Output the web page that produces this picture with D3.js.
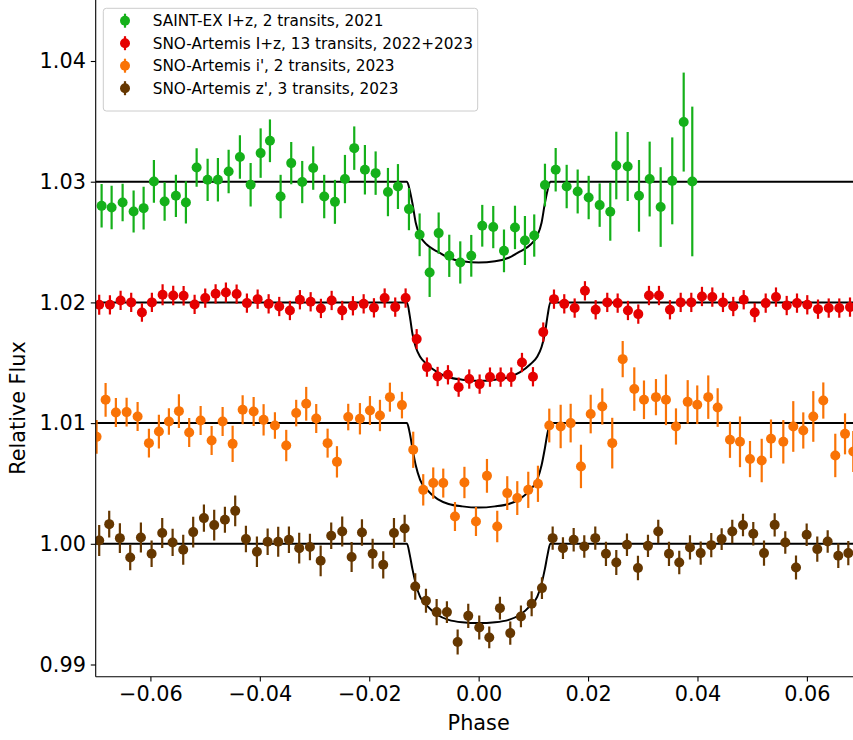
<!DOCTYPE html>
<html>
<head>
<meta charset="utf-8">
<script src="https://cdn.jsdelivr.net/npm/d3@7"></script>
<style>
  html, body { margin: 0; padding: 0; background: #ffffff; }
  svg { display: block; }
  text { font-family: "DejaVu Sans", sans-serif; fill: #000; }
</style>
</head>
<body>
<svg id="chart" width="853" height="740"></svg>
<script>
// ---------------- data ----------------
const seriesLabels = [
  "SAINT-EX I+z, 2 transits, 2021",
  "SNO-Artemis I+z, 13 transits, 2022+2023",
  "SNO-Artemis i', 2 transits, 2023",
  "SNO-Artemis z', 3 transits, 2023"
];
const seriesColors = ["#15b01a", "#e50000", "#f97306", "#653700"];

const xTicks = [-0.06, -0.04, -0.02, 0.00, 0.02, 0.04, 0.06];
const yTicks = [0.99, 1.00, 1.01, 1.02, 1.03, 1.04];

// SAINT-EX I+z
const greenPhase = [-0.06892,-0.06709,-0.06508,-0.06307,-0.06124,-0.05936,-0.05740,-0.05534,-0.05351,-0.05155,-0.04954,-0.04766,-0.04570,-0.04364,-0.04168,-0.03985,-0.03815,-0.03620,-0.03426,-0.03225,-0.03024,-0.02823,-0.02627,-0.02444,-0.02274,-0.02079,-0.01883,-0.01658,-0.01475,-0.01274,-0.01079,-0.00896,-0.00731,-0.00537,-0.00336,-0.00135,0.00066,0.00267,0.00463,0.00664,0.00846,0.01016,0.01212,0.01408,0.01609,0.01810,0.02011,0.02212,0.02406,0.02516,0.02724,0.02931,0.03126,0.03327,0.03539,0.03748,0.03905];
const greenFlux = [1.02800,1.02786,1.02828,1.02753,1.02781,1.03002,1.02836,1.02883,1.02828,1.03118,1.03016,1.03016,1.03085,1.03204,1.02974,1.03237,1.03339,1.02877,1.03154,1.02997,1.03113,1.02877,1.02833,1.03022,1.03278,1.03099,1.03071,1.02914,1.02960,1.02773,1.02560,1.02248,1.02574,1.02386,1.02331,1.02386,1.02635,1.02624,1.02427,1.02621,1.02513,1.02554,1.02972,1.03099,1.02960,1.02919,1.02869,1.02806,1.02751,1.03134,1.03126,1.02883,1.03022,1.02790,1.03007,1.03494,1.03002];
const greenErr = [0.0018,0.0018,0.00156,0.00174,0.00177,0.00177,0.0016,0.00175,0.00175,0.0016,0.00175,0.0018,0.0018,0.0018,0.0018,0.00205,0.00177,0.0018,0.00175,0.00175,0.0018,0.0018,0.00182,0.002,0.0018,0.00205,0.0018,0.002,0.00186,0.00175,0.00177,0.00203,0.00171,0.00175,0.00175,0.00173,0.00173,0.00175,0.00177,0.0018,0.00203,0.00175,0.00177,0.0018,0.0018,0.00182,0.0018,0.0018,0.0024,0.0028,0.00286,0.00297,0.0031,0.0033,0.0036,0.0041,0.0062];

// SNO-Artemis I+z
const redPhase = [-0.06936,-0.06740,-0.06545,-0.06351,-0.06155,-0.05973,-0.05777,-0.05583,-0.05393,-0.05192,-0.04998,-0.04808,-0.04620,-0.04424,-0.04236,-0.04040,-0.03839,-0.03645,-0.03450,-0.03267,-0.03071,-0.02883,-0.02687,-0.02494,-0.02298,-0.02102,-0.01914,-0.01718,-0.01525,-0.01335,-0.01133,-0.00945,-0.00750,-0.00561,-0.00366,-0.00172,0.00018,0.00207,0.00402,0.00596,0.00792,0.00993,0.01181,0.01377,0.01565,0.01755,0.01943,0.02139,0.02351,0.02541,0.02729,0.02918,0.03113,0.03296,0.03497,0.03693,0.03887,0.04082,0.04271,0.04466,0.04654,0.04845,0.05046,0.05247,0.05435,0.05631,0.05819,0.06007,0.06203,0.06399,0.06592,0.06788];
const redFlux = [1.0198,1.0198,1.02016,1.02000,1.01916,1.0200,1.02063,1.02057,1.02055,1.01983,1.02036,1.02071,1.02082,1.02069,1.01994,1.02027,1.01988,1.01966,1.01933,1.02022,1.02005,1.01950,1.02016,1.01933,1.01972,1.01988,1.01955,1.02036,1.01961,1.02036,1.01696,1.01464,1.01386,1.01400,1.01298,1.01365,1.01323,1.01381,1.01381,1.01381,1.01502,1.01384,1.01754,1.02027,1.01988,1.01953,1.02096,1.01939,1.02000,1.01994,1.01933,1.01903,1.02057,1.02057,1.01939,1.02000,1.02000,1.02049,1.02044,1.02000,1.01966,1.02022,1.01916,1.01994,1.02044,1.01974,1.01994,1.01980,1.01944,1.01953,1.01953,1.01961];
const redErr = [0.00083,0.0008,0.0008,0.0008,0.00076,0.0008,0.00087,0.0008,0.0008,0.0008,0.0008,0.0008,0.00083,0.0008,0.0008,0.0008,0.0008,0.0008,0.0008,0.0008,0.0008,0.0008,0.0008,0.0008,0.0008,0.0008,0.0008,0.0008,0.0008,0.0008,0.00083,0.0008,0.0008,0.0008,0.0008,0.0008,0.0008,0.0008,0.0008,0.0008,0.0008,0.0008,0.0008,0.0008,0.0008,0.0008,0.0008,0.0008,0.0008,0.0008,0.0008,0.0008,0.0008,0.0008,0.0008,0.0008,0.0008,0.0008,0.0008,0.0008,0.0008,0.0008,0.0008,0.0008,0.0008,0.0008,0.0008,0.0008,0.0008,0.0008,0.0008,0.0008];

// SNO-Artemis i'
const orangePhase = [-0.06984,-0.06819,-0.06631,-0.06435,-0.06234,-0.06027,-0.05845,-0.05662,-0.05479,-0.05291,-0.05082,-0.04881,-0.04680,-0.04497,-0.04314,-0.04113,-0.03931,-0.03724,-0.03517,-0.03335,-0.03152,-0.02969,-0.02761,-0.02590,-0.02384,-0.02170,-0.01987,-0.01804,-0.01622,-0.01402,-0.01196,-0.01013,-0.00830,-0.00647,-0.00433,-0.00260,-0.00049,0.00152,0.00340,0.00523,0.00706,0.00907,0.01084,0.01291,0.01499,0.01682,0.01870,0.02048,0.02260,0.02442,0.02633,0.02845,0.03022,0.03241,0.03424,0.03607,0.03821,0.03996,0.04197,0.04369,0.04594,0.04777,0.04960,0.05174,0.05344,0.05569,0.05751,0.05934,0.06117,0.06300,0.06519,0.06697,0.06848];
const orangeFlux = [1.00886,1.01193,1.01088,1.01091,1.01055,1.00834,1.00930,1.01013,1.01099,1.00922,1.01022,1.00856,1.01013,1.00828,1.01110,1.01096,1.01027,1.00980,1.00814,1.01083,1.01160,1.01038,1.00834,1.00679,1.01050,1.01036,1.01104,1.01063,1.01215,1.01149,1.00779,1.00447,1.00503,1.00503,1.00226,1.00508,1.00185,1.00563,1.00143,1.00420,1.00379,1.00447,1.00497,1.00980,1.00972,1.01000,1.00641,1.01075,1.01138,1.00834,1.01530,1.01282,1.01193,1.01215,1.01193,1.00972,1.01176,1.01152,1.01215,1.01129,1.00862,1.00845,1.00702,1.00690,1.00870,1.00845,1.00972,1.00939,1.01055,1.01187,1.00732,1.00911,1.00765];
const orangeErr = [0.0014,0.0014,0.0012,0.0012,0.0012,0.0012,0.0014,0.0011,0.0014,0.0012,0.0012,0.0012,0.0012,0.0015,0.0012,0.0012,0.0013,0.0011,0.0013,0.0011,0.0014,0.0012,0.0012,0.0013,0.0011,0.0013,0.0012,0.0013,0.0012,0.0011,0.0015,0.0013,0.0013,0.0012,0.0012,0.0013,0.0012,0.0014,0.0013,0.0014,0.0014,0.0015,0.0015,0.0014,0.0018,0.0016,0.0018,0.0016,0.0015,0.0021,0.0015,0.0018,0.0016,0.0015,0.0021,0.0015,0.0018,0.0016,0.0018,0.0016,0.0015,0.0021,0.0015,0.0018,0.0016,0.0018,0.0021,0.0015,0.0021,0.0015,0.0018,0.0017,0.0017];

// SNO-Artemis z'
const brownPhase = [-0.06936,-0.06753,-0.06558,-0.06369,-0.06174,-0.05978,-0.05784,-0.05594,-0.05400,-0.05218,-0.05022,-0.04834,-0.04638,-0.04450,-0.04254,-0.04053,-0.03857,-0.03664,-0.03468,-0.03280,-0.03084,-0.02888,-0.02695,-0.02494,-0.02322,-0.02133,-0.01938,-0.01744,-0.01548,-0.01353,-0.01159,-0.00963,-0.00768,-0.00580,-0.00384,-0.00190,0.00011,0.00194,0.00389,0.00578,0.00773,0.00969,0.01157,0.01353,0.01541,0.01737,0.01931,0.02132,0.02327,0.02516,0.02711,0.02912,0.03095,0.03283,0.03479,0.03667,0.03863,0.04059,0.04252,0.04442,0.04636,0.04832,0.05020,0.05216,0.05411,0.05605,0.05801,0.05996,0.06190,0.06380,0.06574,0.06757];
const brownFlux = [1.00027,1.00163,1.00047,0.99887,1.00052,0.99917,1.00089,1.00011,0.99950,1.00097,1.00213,1.00155,1.00199,1.00273,1.00039,0.99934,1.00017,1.00017,1.00033,0.99964,0.99973,0.99859,1.00066,1.00102,0.99890,1.00094,0.99917,0.99826,1.00089,1.00127,0.99646,0.99528,0.99434,0.99434,0.99186,0.99403,0.99307,0.99224,0.99467,0.99260,0.99398,0.99503,0.99633,1.00047,0.99964,1.00033,0.99978,1.00047,0.99917,0.99845,0.99992,0.99799,0.99983,1.00102,0.99917,0.99845,0.99970,0.99923,0.99989,1.00039,1.00102,1.00155,1.00083,0.99923,1.00157,1.00011,0.99804,1.00075,0.99956,1.00019,0.99901,0.99923];
const brownErr = [0.00128,0.0011,0.00124,0.00106,0.00124,0.0011,0.00124,0.00113,0.00124,0.00128,0.00113,0.00128,0.00108,0.00127,0.0011,0.00127,0.0011,0.00124,0.0011,0.00127,0.0011,0.00127,0.0011,0.00124,0.00124,0.0011,0.00124,0.00113,0.00124,0.00113,0.0011,0.001,0.00108,0.00091,0.00104,0.001,0.001,0.0009,0.00094,0.00097,0.0009,0.00104,0.0009,0.00097,0.0009,0.00097,0.00093,0.00097,0.001,0.00104,0.00094,0.00102,0.00093,0.00097,0.00101,0.00097,0.001,0.00097,0.001,0.0009,0.00097,0.00093,0.00097,0.00104,0.00097,0.00093,0.001,0.00094,0.00104,0.00094,0.00101,0.00101];

// transit model curves
const modelPhase = [-0.07,-0.0131,-0.0126,-0.0121,-0.0115,-0.0107,-0.0095,-0.0075,-0.0055,-0.003,0,0.003,0.0055,0.0075,0.0095,0.0107,0.0115,0.0121,0.0126,0.0131,0.07];
const greenModel  = [1.03,1.03,1.0293,1.0282,1.0266,1.0255,1.0248,1.0242,1.0237,1.0234,1.0233,1.0234,1.0237,1.0242,1.0248,1.0255,1.0266,1.0282,1.0293,1.03,1.03];
const redModel    = [1.02,1.02,1.0189,1.0174,1.0163,1.0155,1.0149,1.0142,1.0138,1.0136,1.0135,1.0136,1.0138,1.0142,1.0149,1.0155,1.0163,1.0174,1.0189,1.02,1.02];
const orangeModel = [1.01,1.01,1.0092,1.0079,1.0065,1.0053,1.0045,1.0037,1.0033,1.0031,1.0030,1.0031,1.0033,1.0037,1.0045,1.0053,1.0065,1.0079,1.0092,1.01,1.01];
const brownModel  = [1.00,1.00,0.9991,0.9979,0.9967,0.9956,0.9949,0.9941,0.9937,0.9935,0.99343,0.9935,0.9937,0.9941,0.9949,0.9956,0.9967,0.9979,0.9991,1.00,1.00];

// ---------------- drawing ----------------
const svg = d3.select("#chart");
const L = 95.7, R = 861.6, B = 676.7, T = -20;

const x = d3.scaleLinear().domain([-0.07, 0.07]).range([L, R]);
const y = d3.scaleLinear().domain([0.99, 1.04]).range([664.5, 61]);

svg.append("defs").append("clipPath").attr("id", "plotclip")
  .append("rect").attr("x", L).attr("y", T).attr("width", R - L).attr("height", B - T);

const plot = svg.append("g").attr("clip-path", "url(#plotclip)");

const series = [
  {phase: greenPhase, flux: greenFlux, err: greenErr, model: greenModel},
  {phase: redPhase, flux: redFlux, err: redErr, model: redModel},
  {phase: orangePhase, flux: orangeFlux, err: orangeErr, model: orangeModel},
  {phase: brownPhase, flux: brownFlux, err: brownErr, model: brownModel}
];

const line = d3.line().x(d => x(d[0])).y(d => y(d[1])).curve(d3.curveMonotoneX);

// model lines first
series.forEach(s => {
  plot.append("path")
    .datum(modelPhase.map((p, i) => [p, s.model[i]]))
    .attr("d", line)
    .attr("fill", "none")
    .attr("stroke", "#000")
    .attr("stroke-width", 2);
});

// error bars + points
series.forEach((s, k) => {
  const col = seriesColors[k];
  const pts = s.phase.map((p, i) => ({p, f: s.flux[i], e: s.err[i]}));
  const g = plot.append("g");
  g.selectAll("line").data(pts).join("line")
    .attr("x1", d => x(d.p)).attr("x2", d => x(d.p))
    .attr("y1", d => y(d.f - d.e)).attr("y2", d => y(d.f + d.e))
    .attr("stroke", col).attr("stroke-width", 2.2);
  g.selectAll("circle").data(pts).join("circle")
    .attr("cx", d => x(d.p)).attr("cy", d => y(d.f))
    .attr("r", 5).attr("fill", col);
});

// axes
const fmt = d3.format(".2f");
const xAxis = svg.append("g").attr("transform", `translate(0,${B})`)
  .call(d3.axisBottom(x).tickValues(xTicks).tickFormat(fmt).tickSize(4.9).tickPadding(4.9));
const yAxis = svg.append("g").attr("transform", `translate(${L},0)`)
  .call(d3.axisLeft(y).tickValues(yTicks).tickFormat(fmt).tickSize(4.9).tickPadding(4.9));
[xAxis, yAxis].forEach(a => {
  a.select(".domain").remove();
  a.selectAll(".tick line").attr("stroke", "#000").attr("stroke-width", 1.1);
  a.selectAll(".tick text").attr("font-size", "20.8px")
    .attr("font-family", "DejaVu Sans, sans-serif").attr("fill", "#000");
});

// spines
svg.append("line").attr("x1", L).attr("x2", L).attr("y1", T).attr("y2", B)
  .attr("stroke", "#000").attr("stroke-width", 1.1);
svg.append("line").attr("x1", L).attr("x2", R).attr("y1", B).attr("y2", B)
  .attr("stroke", "#000").attr("stroke-width", 1.1);

// axis labels
svg.append("text").attr("x", (L + R) / 2).attr("y", 730)
  .attr("text-anchor", "middle").attr("font-size", "20.8px").text("Phase");
svg.append("text")
  .attr("transform", `translate(25,408) rotate(-90)`)
  .attr("text-anchor", "middle").attr("font-size", "20.8px").text("Relative Flux");

// legend
const lg = svg.append("g");
lg.append("rect").attr("x", 103.3).attr("y", 8.3).attr("width", 374.4).attr("height", 102.7)
  .attr("rx", 3).attr("fill", "#fff").attr("fill-opacity", 0.8)
  .attr("stroke", "#cccccc").attr("stroke-width", 1);
seriesLabels.forEach((lab, i) => {
  const cy = 20.7 + i * 22.5;
  lg.append("line").attr("x1", 125).attr("x2", 125).attr("y1", cy - 7).attr("y2", cy + 7)
    .attr("stroke", seriesColors[i]).attr("stroke-width", 2.2);
  lg.append("circle").attr("cx", 125).attr("cy", cy).attr("r", 5).attr("fill", seriesColors[i]);
  lg.append("text").attr("x", 152.7).attr("y", cy + 5.5).attr("font-size", "15.3px").text(lab);
});
</script>
</body>
</html>
